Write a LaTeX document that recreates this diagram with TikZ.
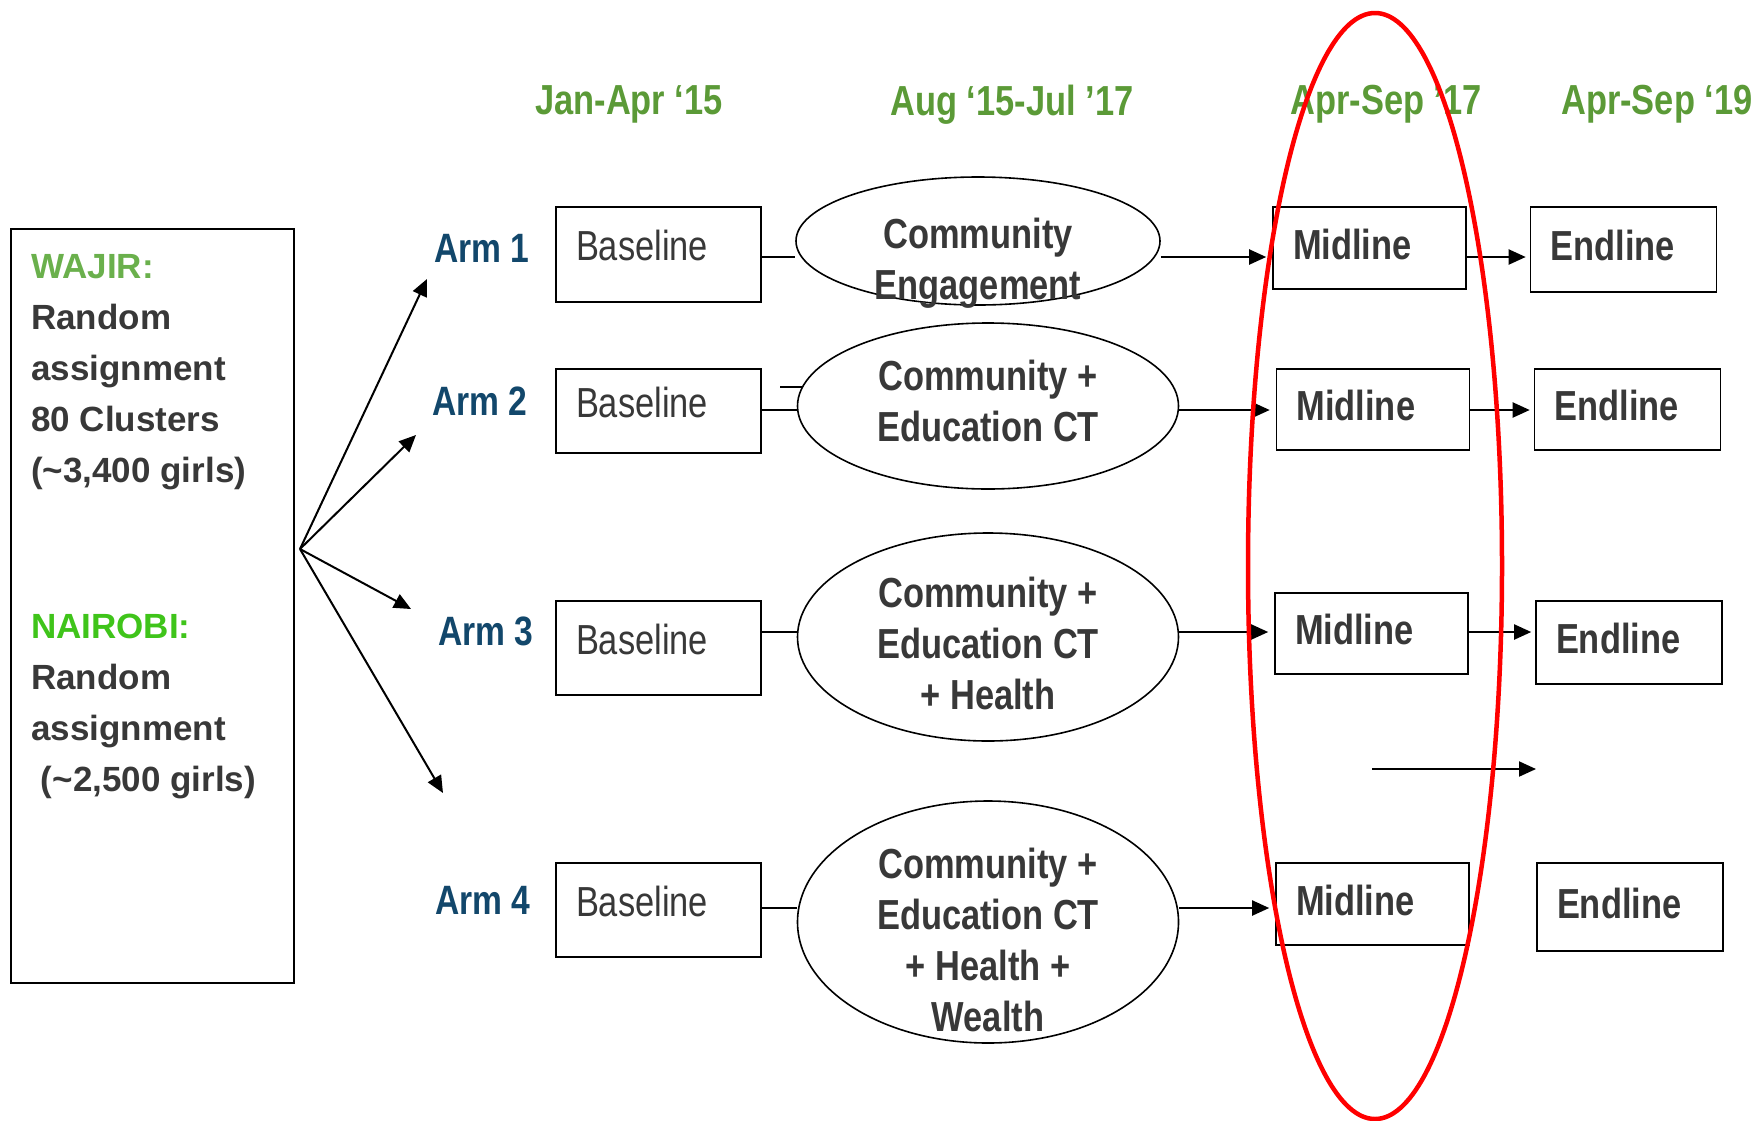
\documentclass[tikz,border=0pt]{standalone}
\usepackage{fontspec}
\setmainfont{Liberation Sans}
\newfontfamily\narrowfont{Liberation Sans}[FakeStretch=0.82]
\usetikzlibrary{arrows.meta, shapes.geometric, backgrounds}
\definecolor{txtgray}{HTML}{383838}
\definecolor{armblue}{HTML}{12476B}
\definecolor{headgreen}{HTML}{5B9A37}
\definecolor{wajirgreen}{HTML}{6AB04C}
\definecolor{nairobigreen}{HTML}{3FC41A}
\begin{document}
\begin{tikzpicture}[x=1pt, y=-1pt,
            > = {Triangle[length=17pt, width=15pt]},
    flow/.style = {line width=2pt, ->},
    link/.style = {line width=2pt},
stagebox/.style = {draw, line width=1.6pt, inner xsep=20pt, inner ysep=0pt,
                   align=left, text=txtgray},
 basebox/.style = {stagebox, text width=165pt, text depth=18pt,
                   font=\narrowfont\fontsize{42}{51}\selectfont},
  midbox/.style = {stagebox, text width=153pt, text depth=8pt,
                   font=\narrowfont\bfseries\fontsize{42}{51}\selectfont},
  endbox/.style = {stagebox, text width=146pt, text depth=8pt,
                   font=\narrowfont\bfseries\fontsize{42}{51}\selectfont},
    oval/.style = {draw, ellipse, line width=1.6pt, fill=white, inner sep=0pt},
ovaltext/.style = {align=center, text=txtgray,
                   font=\narrowfont\bfseries\fontsize{42}{51}\selectfont},
     arm/.style = {text=armblue, font=\narrowfont\bfseries\fontsize{41}{48}\selectfont},
  period/.style = {text=headgreen, font=\narrowfont\bfseries\fontsize{42}{51}\selectfont},
    site/.style = {align=left, inner sep=0pt, text=txtgray,
                   font=\bfseries\fontsize{35}{51}\selectfont}
                        ]
\useasboundingbox (0,0) rectangle (1758,1120);
% periods
    \node[period] (p1) at (629,104.5) {Jan-Apr ‘15};
    \node[period] (p2) at (1012,104.5) {Aug ‘15-Jul ’17};
    \node[period] (p3) at (1386,104.5) {Apr-Sep ’17};
    \node[period, anchor=west, inner xsep=0pt] (p4) at (1561,104.5) {Apr-Sep ‘19};
% sites
    \node[draw, line width=1.6pt, minimum width=283pt, minimum height=754pt] (sites) at (152.5,606) {};
    \node[site, anchor=north west] (wajir) at (31,254.5)
        {\textcolor{wajirgreen}{WAJIR:}\\Random\\assignment\\80 Clusters\\(\textasciitilde3,400 girls)};
    \node[site, anchor=north west] (nairobi) at (31,613.5)
        {\textcolor{nairobigreen}{NAIROBI:}\\Random\\assignment\\\ (\textasciitilde2,500 girls)};
% arms
    \node[arm] (arm1) at (482,248) {Arm 1};
    \node[arm] (arm2) at (480,401) {Arm 2};
    \node[arm] (arm3) at (486,631) {Arm 3};
    \node[arm] (arm4) at (483,900) {Arm 4};
% baseline
    \node[basebox, minimum height=95pt] (b1) at (658.5,254.5) {Baseline};
    \node[basebox, minimum height=84pt] (b2) at (658.5,411) {Baseline};
    \node[basebox, minimum height=94pt] (b3) at (658.5,648) {Baseline};
    \node[basebox, minimum height=94pt] (b4) at (658.5,910) {Baseline};
% interventions
    \node[oval, minimum width=364pt, minimum height=128pt,
          label={[ovaltext, yshift=-22.5pt]center:{Community\\Engagement}}] (e1) at (978,241) {};
    \node[oval, minimum width=381pt, minimum height=166pt,
          label={[ovaltext, yshift=5pt]center:{Community +\\Education CT}}] (e2) at (988,406) {};
    \node[oval, minimum width=381pt, minimum height=208pt,
          label={[ovaltext, yshift=-6pt]center:{Community +\\Education CT\\+ Health}}] (e3) at (988,637) {};
    \node[oval, minimum width=381pt, minimum height=242pt,
          label={[ovaltext, yshift=-18pt]center:{Community +\\Education CT\\+ Health +\\Wealth}}] (e4) at (988,922) {};
% midline
    \node[midbox, minimum height=82pt] (m1) at (1369.5,248) {Midline};
    \node[midbox, minimum height=81pt] (m2) at (1373,409.5) {Midline};
    \node[midbox, minimum height=81pt] (m3) at (1371.5,633.5) {Midline};
    \node[midbox, minimum height=82pt] (m4) at (1372.5,904) {Midline};
% endline
    \node[endbox, minimum height=85pt] (n1) at (1623.5,249.5) {Endline};
    \node[endbox, minimum height=81pt] (n2) at (1627.5,409.5) {Endline};
    \node[endbox, minimum height=83pt] (n3) at (1629,642.5) {Endline};
    \node[endbox, minimum height=88pt] (n4) at (1630,907) {Endline};
% rows and free ends
    \coordinate (r1) at (0,257);
    \coordinate (r2) at (0,410);
    \coordinate (r3) at (0,632);
    \coordinate (r4) at (0,908);
    \coordinate (fan) at (300,549);
    \coordinate (a1) at (427,279);
    \coordinate (a2) at (416,435);
    \coordinate (a3) at (411,609);
    \coordinate (a4) at (443,793);
    \coordinate (stub) at (780,387);
    \coordinate (gapstart) at (1372,769);
    \coordinate (gapend) at (1536,769);
% connectors
\begin{scope}[on background layer]
    \foreach \i in {1,...,4}
        \draw[flow] (fan) -- (a\i);
    \foreach \i in {1,...,4}
    {
        \draw[link] (b\i.east |- r\i) -- (e\i.west |- r\i);
        \draw[flow, shorten >=6pt] (e\i.east |- r\i) -- (m\i.west |- r\i);
    }
    \foreach \i in {1,2,3}
        \draw[flow, shorten >=4pt] (m\i.east |- r\i) -- (n\i.west |- r\i);
    \draw[link] (stub) -- ++(22,0);
    \draw[flow] (gapstart) -- (gapend);
\end{scope}
% focus on midline
    \draw[red, line width=4.5pt] (1375,566) ellipse [x radius=127pt, y radius=553pt];
\end{tikzpicture}
\end{document}
